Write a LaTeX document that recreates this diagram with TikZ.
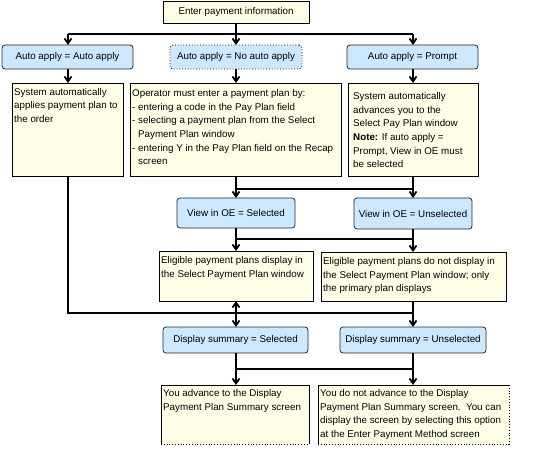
\documentclass[tikz,border=0pt]{standalone}
\usepackage{fontspec}
\setmainfont{Liberation Sans}
\usetikzlibrary{arrows.meta,calc}
\definecolor{cream}{RGB}{255,255,232}
\definecolor{lblue}{RGB}{204,232,255}
\begin{document}
\begin{tikzpicture}[x=1pt,y=-1pt,
 font=\fontsize{9.8}{13.7}\selectfont,
 ybox/.style={draw=black,fill=cream,line width=0.8pt,anchor=north west,inner sep=0,outer sep=0},
 yfill/.style={fill=cream,anchor=north west,inner sep=0,outer sep=0},
 bbox/.style={draw=black!85,fill=lblue,rounded corners=3pt,line width=0.8pt,inner sep=0,outer sep=0,anchor=north west},
 txt/.style={anchor=north west,align=left,inner sep=0},
 conn/.style={line width=2pt},
 arr/.style={line width=2pt,-{Straight Barb[length=5pt,width=7pt,line width=1.8pt]}}]
\fill[white] (0,0) rectangle (554,457);
\useasboundingbox (0,0) rectangle (554,457);

% top
\node[ybox,minimum width=146pt,minimum height=22pt] (top) at (163,1) {Enter payment information};

% blue row 1
\node[bbox,minimum width=131pt,minimum height=24pt] (ba) at (2,45) {Auto apply = Auto apply};
\node[bbox,draw=black,dotted,minimum width=132pt,minimum height=24pt] (bb) at (170,45) {Auto apply = No auto apply};
\node[bbox,minimum width=131pt,minimum height=24pt] (bc) at (347,45) {Auto apply = Prompt};

% yellow row 1
\node[ybox,minimum width=111pt,minimum height=93pt] (ya) at (12,83) {};
\node[txt] (yat) at ([xshift=2pt,yshift=-5pt]ya.north west) {System automatically\\applies payment plan to\\the order};
\node[ybox,minimum width=211pt,minimum height=93pt] (yb) at (130,83) {};
\node[txt] (ybt) at ([xshift=2pt,yshift=-6pt]yb.north west) {Operator must enter a payment plan by:\\- entering a code in the Pay Plan field\\- selecting a payment plan from the Select\\\phantom{- }Payment Plan window\\- entering Y in the Pay Plan field on the Recap\\\phantom{- }screen};
\node[ybox,minimum width=130pt,minimum height=93pt] (yc) at (348,83) {};
\node[txt] (yct) at ([xshift=5pt,yshift=-9pt]yc.north west) {System automatically\\advances you to the\\Select Pay Plan window\\\textbf{Note:} If auto apply =\\Prompt, View in OE must\\be selected};

% view row
\node[bbox,minimum width=118pt,minimum height=30pt] (vs) at (177,198) {View in OE = Selected};
\node[bbox,minimum width=118pt,minimum height=31pt] (vu) at (354,198) {View in OE = Unselected};

% yellow row 2
\node[ybox,minimum width=154pt,minimum height=50pt] (yd) at (159,251) {};
\node[txt] (ydt) at ([xshift=2pt,yshift=-5pt]yd.north west) {Eligible payment plans display in\\the Select Payment Plan window};
\node[ybox,minimum width=185pt,minimum height=49pt] (ye) at (321,252) {};
\node[txt] (yet) at ([xshift=2pt,yshift=-5pt]ye.north west) {Eligible payment plans do not display in\\the Select Payment Plan window; only\\the primary plan displays};

% display row
\node[bbox,minimum width=145pt,minimum height=26pt] (ds) at (163,327) {Display summary = Selected};
\node[bbox,minimum width=146pt,minimum height=26pt] (du) at (340,327) {Display summary = Unselected};

% yellow row 3
\node[yfill,minimum width=148pt,minimum height=59pt] (yf) at (161,385) {};
\draw[line width=0.8pt] (yf.south west) -- (yf.north west) -- (yf.north east) -- (yf.south east);
\draw[line width=0.8pt,dotted] (yf.south west) -- (yf.south east);
\node[txt] (yft) at ([xshift=2pt,yshift=-4pt]yf.north west) {You advance to the Display\\Payment Plan Summary screen};
\node[yfill,minimum width=191pt,minimum height=59pt] (yg) at (318,385) {};
\draw[line width=0.8pt] (yg.south west) -- (yg.north west) -- (yg.north east);
\draw[line width=0.8pt,dotted] (yg.south west) -- (yg.south east) -- (yg.north east);
\node[txt] (ygt) at ([xshift=2pt,yshift=-4pt]yg.north west) {You do not advance to the Display\\Payment Plan Summary screen.\ \ You can\\display the screen by selecting this option\\at the Enter Payment Method screen};

% connectors
\coordinate (j1) at (236,34);
\coordinate (j1l) at (68,34);
\coordinate (j1r) at (413,34);
\draw[conn] (top.south) -- (j1);
\draw[conn] (j1l) -- (j1r);
\draw[arr] (j1l) -- (j1l |- ba.north);
\draw[arr] (j1) -- (j1 |- bb.north);
\draw[arr] (j1r) -- (j1r |- bc.north);

\draw[arr] (j1l |- ba.south) -- (j1l |- ya.north);
\draw[arr] (j1 |- bb.south) -- (j1 |- yb.north);
\draw[arr] (j1r |- bc.south) -- (j1r |- yc.north);

\coordinate (j2) at (236,189);
\coordinate (j2r) at (413,189);
\draw[conn] (j1 |- yb.south) -- (j2) -- (j2r);
\draw[arr] (j1r |- yc.south) -- (j1r |- vu.north);
\draw[arr] (j2) -- (j2 |- vs.north);

\coordinate (j3) at (236,239);
\coordinate (j3r) at (413,239);
\draw[conn] (j3) -- (j3r);
\draw[arr] (j1 |- vs.south) -- (j1 |- yd.north);
\draw[arr] (j1r |- vu.south) -- (j1r |- ye.north);

\coordinate (j4l) at (68,313);
\coordinate (j4) at (236,313);
\coordinate (j4r) at (413,313);
\draw[conn] (j1l |- ya.south) -- (j4l) -- (j4r);
\draw[arr] (j1r |- ye.south) -- (j1r |- du.north);
\draw[arr] (j4) -- (j4 |- yd.south);
\draw[arr] (j4) -- (j4 |- ds.north);

\coordinate (j5) at (236,369);
\coordinate (j5r) at (413,369);
\draw[conn] (j5) -- (j5r);
\draw[arr] (j5 |- ds.south) -- (j5 |- yf.north);
\draw[arr] (j5r |- du.south) -- (j5r |- yg.north);
\end{tikzpicture}
\end{document}
